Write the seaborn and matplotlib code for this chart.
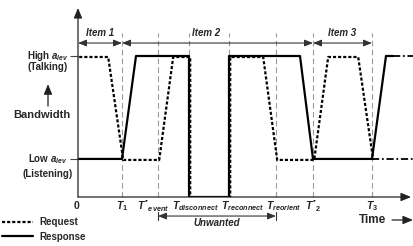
import matplotlib
matplotlib.use("Agg")
import matplotlib.pyplot as plt
import matplotlib.transforms as mtransforms
import seaborn as sns

# Bandwidth levels (relative)
LOW = 0.27
HIGH = 1.0
OFF = 0.0

# Event times on the time axis
tick_times = [0, 44, 80, 111, 151, 198, 235, 294]
tick_labels = ['0', r'$T_1$', r"$T''_{event}$", r'$T_{disconnect}$',
               r'$T_{reconnect}$', r'$T_{reorient}$', r"$T''_2$", r'$T_3$']
guide_times = [44, 80, 111, 151, 198, 235, 294]

# Request (dashed) trace
request_t = [0, 29, 44, 80, 94, 111, 111, 151, 151, 184, 198, 235, 249, 279, 294]
request_bw = [HIGH, HIGH, LOW, LOW, HIGH, HIGH, OFF, OFF, HIGH, HIGH, LOW, LOW, HIGH, HIGH, LOW]

# Response (solid) trace
response_t = [0, 44, 58, 111, 111, 151, 151, 222, 235, 294, 308]
response_bw = [LOW, LOW, HIGH, HIGH, OFF, OFF, HIGH, HIGH, LOW, LOW, HIGH]

# continuation of both traces after T3
cont_end = 336

# Items along the top
item_labels = ['Item 1', 'Item 2', 'Item 3']
item_start = [0, 44, 235]
item_end = [44, 235, 294]
item_label_t = [22, 128, 264]

# Unwanted span
unwanted = (80, 198)

sns.set_theme(style="white")
plt.rcParams['font.family'] = ['Liberation Sans', 'DejaVu Sans']
plt.rcParams['font.weight'] = 'bold'
plt.rcParams['mathtext.fontset'] = 'custom'
plt.rcParams['mathtext.it'] = 'Liberation Sans:italic:bold'
plt.rcParams['mathtext.rm'] = 'Liberation Sans:bold'
plt.rcParams['mathtext.bf'] = 'Liberation Sans:bold'
plt.rcParams['mathtext.sf'] = 'Liberation Sans:italic'

fig = plt.figure(figsize=(4.14, 2.46), dpi=100)
ax = fig.add_axes([78 / 414, 49 / 246, 333 / 414, 189 / 246])
ax.set_xlim(0, 333)
ax.set_ylim(0, 189 / 141)
for s in ax.spines.values():
    s.set_visible(False)
ax.set_xticks([])
ax.set_yticks([LOW, HIGH], ['', ''])
ax.tick_params(axis='y', left=True, length=6, width=0.8, color='#444')
ax.set_xlabel('')
ax.set_ylabel('')

# gray vertical guides
for t in guide_times:
    ax.plot([t, t], [0, 1.16], color='#9a9a9a', lw=0.8, dashes=(5, 3), zorder=1)

# traces
sns.lineplot(x=response_t, y=response_bw, sort=False, estimator=None, ax=ax,
             color='black', lw=1.6, label='Response', zorder=3)
sns.lineplot(x=request_t, y=request_bw, sort=False, estimator=None, ax=ax,
             color='black', lw=1.6, dashes=False, label='Request', zorder=4)
req_line = ax.lines[-1]
req_line.set_dashes((1.4, 0.9))
req_line.set_transform(mtransforms.offset_copy(ax.transData, fig=fig, x=1.2, y=-1.0, units='dots'))

# dash-dot continuation
ax.plot([request_t[-1], cont_end], [request_bw[-1], request_bw[-1]], color='black',
        lw=1.3, dashes=(4, 1.5, 1, 1.5), clip_on=False, zorder=3)
ax.plot([response_t[-1] + 7, cont_end], [response_bw[-1], response_bw[-1]], color='black',
        lw=1.3, dashes=(4, 1.5, 1, 1.5), clip_on=False, zorder=3)
ax.plot([response_t[-1], response_t[-1] + 7], [response_bw[-1], response_bw[-1]],
        color='black', lw=1.6, zorder=3)

# axes arrows
ax.annotate('', xy=(0, 189 / 141), xytext=(0, 0), annotation_clip=False,
            arrowprops=dict(arrowstyle='-|>,head_length=0.6,head_width=0.25',
                            lw=0.9, color='#222', shrinkA=0, shrinkB=0, mutation_scale=10))
ax.annotate('', xy=(333, 0), xytext=(0, 0), annotation_clip=False,
            arrowprops=dict(arrowstyle='-|>,head_length=0.6,head_width=0.25',
                            lw=0.9, color='#222', shrinkA=0, shrinkB=0, mutation_scale=10))

# item arrows
arrow_y = 1.092
for lab, a, b, lt in zip(item_labels, item_start, item_end, item_label_t):
    ax.annotate('', xy=(b, arrow_y), xytext=(a, arrow_y), annotation_clip=False,
                arrowprops=dict(arrowstyle='<|-|>,head_length=0.5,head_width=0.2',
                                lw=0.8, color='#333', shrinkA=0, shrinkB=0, mutation_scale=10))
    ax.text(lt, 1.16, lab, ha='center', va='center', fontsize=7, style='italic',
            fontweight='bold')

# unwanted arrow
uy = -0.135
ax.annotate('', xy=(unwanted[1], uy), xytext=(unwanted[0], uy), annotation_clip=False,
            arrowprops=dict(arrowstyle='<|-|>,head_length=0.5,head_width=0.2',
                            lw=0.8, color='#333', shrinkA=0, shrinkB=0, mutation_scale=10))
for t in unwanted:
    ax.plot([t, t], [uy + 0.03, uy - 0.03], color='#333', lw=0.8, clip_on=False)
ax.text(139, -0.185, 'Unwanted', ha='center', va='center', fontsize=7, style='italic')

# tick labels along time axis
tick_dx = [-1, 0, -5, 6, 14, 8, 0, 0]
for t, lab, dx in zip(tick_times, tick_labels, tick_dx):
    ax.text(t + dx, -0.064, lab, ha='center', va='center', fontsize=7.5)

# time label
ax.text(295, -0.163, 'Time', ha='center', va='center', fontsize=8.5)
ax.annotate('', xy=(335, -0.163), xytext=(314, -0.163), annotation_clip=False,
            arrowprops=dict(arrowstyle='-|>,head_length=0.6,head_width=0.25',
                            lw=0.9, color='#222', shrinkA=0, shrinkB=0, mutation_scale=10))

# y labels
ax.text(-30, HIGH, r'High $\mathsf{a_{lev}}$', ha='center', va='center', fontsize=7)
ax.text(-30, 0.922, '(Talking)', ha='center', va='center', fontsize=7)
ax.text(-30, LOW, r'Low $\mathsf{a_{lev}}$', ha='center', va='center', fontsize=7)
ax.text(-30, 0.163, '(Listening)', ha='center', va='center', fontsize=7)
ax.text(-36, 0.582, 'Bandwidth', ha='center', va='center', fontsize=8)
ax.annotate('', xy=(-30, 0.80), xytext=(-30, 0.645), annotation_clip=False,
            arrowprops=dict(arrowstyle='-|>,head_length=0.6,head_width=0.25',
                            lw=0.9, color='#222', shrinkA=0, shrinkB=0, mutation_scale=10))

# legend
handles, labels = ax.get_legend_handles_labels()
order = [labels.index('Request'), labels.index('Response')]
ax.legend([handles[i] for i in order], [labels[i] for i in order],
          loc='upper left', bbox_to_anchor=(0.0, 0.125), bbox_transform=fig.transFigure,
          frameon=False, fontsize=7, handlelength=3.2, handletextpad=0.7,
          labelspacing=0.45, borderpad=0, borderaxespad=0.2)

fig.savefig('out.png', dpi=100)
